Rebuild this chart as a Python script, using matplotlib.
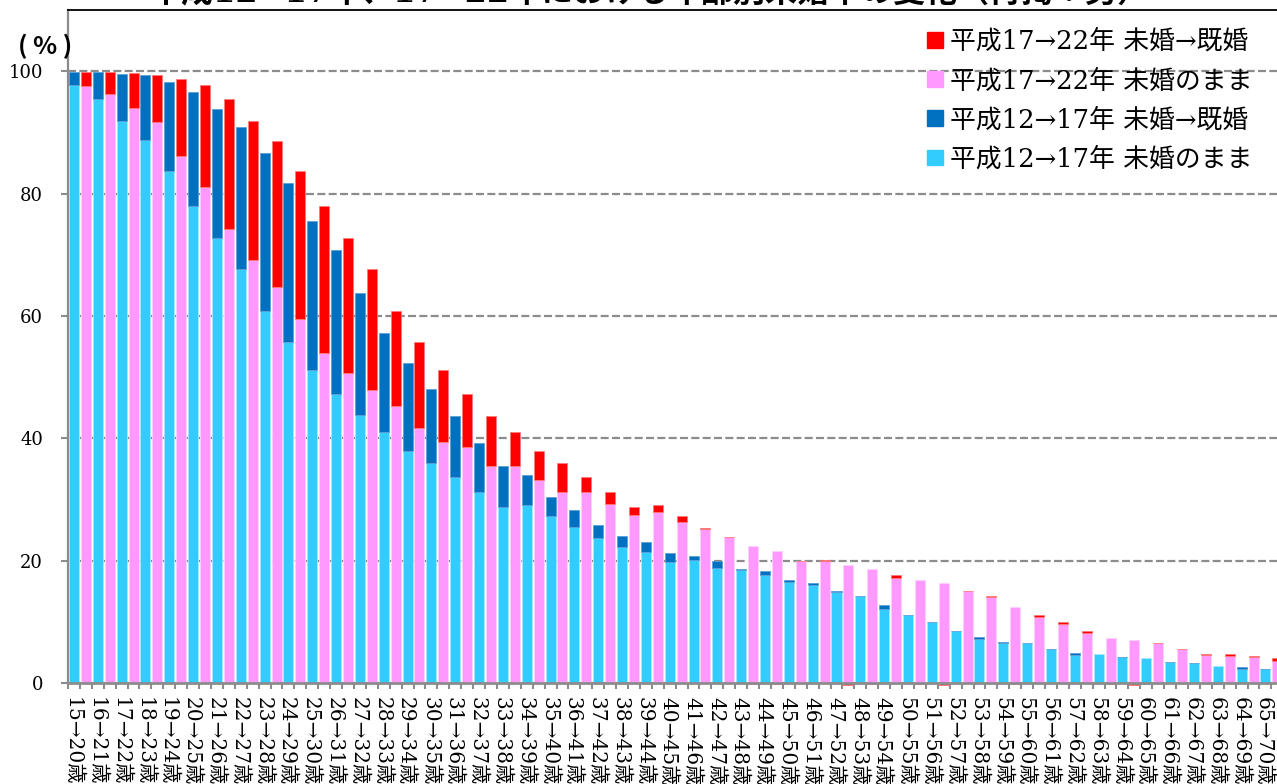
import matplotlib
matplotlib.use("Agg")
import matplotlib.pyplot as plt
from matplotlib.patches import Patch
import numpy as np

# ---------------------------------------------------------------------------
# data (%)
# ---------------------------------------------------------------------------
start_ages = list(range(15, 66))
age_labels = [f"{a}→{a + 5}歳" for a in start_ages]

# 平成12→17年
h12_stay = [97.7, 95.4, 91.8, 88.7, 83.7, 77.9, 72.7, 67.7, 60.8, 55.7,
            51.1, 47.2, 43.8, 41.1, 38.0, 35.9, 33.7, 31.2, 28.7, 29.1,
            27.3, 25.5, 23.7, 22.2, 21.4, 19.8, 20.1, 18.8, 18.5, 17.6,
            16.5, 16.0, 14.9, 14.2, 12.1, 11.1, 9.9, 8.5, 7.2, 6.5,
            6.5, 5.5, 4.6, 4.7, 4.25, 4.1, 3.4, 3.3, 2.8, 2.3, 2.3]
h12_married = [2.2, 4.4, 7.7, 10.6, 14.5, 18.7, 21.2, 23.2, 25.8, 26.1,
               24.4, 23.6, 19.9, 16.1, 14.3, 12.2, 10.0, 8.1, 6.8, 4.9,
               3.1, 2.7, 2.2, 1.9, 1.6, 1.4, 0.7, 1.1, 0.1, 0.7,
               0.3, 0.3, 0.2, 0.0, 0.6, 0.0, 0.0, 0.0, 0.3, 0.2,
               0.0, 0.0, 0.3, -0.05, 0.0, -0.1, 0.0, 0.0, -0.15, 0.3, 0.0]

# 平成17→22年
h17_stay = [97.6, 96.3, 94.0, 91.7, 86.2, 81.1, 74.2, 69.1, 64.8, 59.5,
            54.0, 50.7, 47.9, 45.2, 41.7, 39.4, 38.6, 35.4, 35.5, 33.1,
            31.3, 31.2, 29.3, 27.4, 28.0, 26.3, 25.1, 23.8, 22.4, 21.6,
            19.9, 19.9, 19.3, 18.6, 17.2, 16.8, 16.3, 15.0, 14.05, 12.4,
            10.8, 9.7, 8.2, 7.4, 7.0, 6.6, 5.5, 4.5, 4.4, 4.2, 3.6]
h17_married = [2.3, 3.5, 5.7, 7.6, 12.6, 16.6, 21.2, 22.7, 23.8, 24.2,
               23.9, 22.0, 19.8, 15.6, 14.0, 11.7, 8.6, 8.3, 5.6, 4.9,
               4.6, 2.4, 1.9, 1.3, 1.1, 1.0, 0.3, 0.0, -0.1, -0.2,
               0.0, 0.2, -0.4, -0.1, 0.4, -0.2, -0.3, 0.0, 0.25, -0.1,
               0.3, 0.2, 0.3, -0.1, -0.3, 0.0, 0.0, 0.2, 0.3, 0.2, 0.5]

legend_labels = ["平成17→22年 未婚→既婚", "平成17→22年 未婚のまま",
                 "平成12→17年 未婚→既婚", "平成12→17年 未婚のまま"]
title = "平成12→17年、17→22年における年齢別未婚率の変化（再掲：男）"

# colours
C_H12_STAY, C_H12_MAR = "#33ccff", "#0070c0"
C_H17_STAY, C_H17_MAR = "#ff99ff", "#ff0000"
GRAY = "#8c8c8c"

# serif digits/arrows, Japanese glyphs fall back to the CJK family
JP = ["DejaVu Serif", "Noto Sans CJK JP"]
plt.rcParams["font.family"] = JP

W, H = 1277, 784
fig = plt.figure(figsize=(W / 100, H / 100), dpi=100)
# the source picture is cropped: plot area runs a little past the right edge
ax = fig.add_axes([68 / W, 1 - 683 / H, (1283.3 - 68) / W, (683 - 10) / H])

n = len(age_labels)
x_h12 = np.arange(n) * 2
x_h17 = x_h12 + 1
width = 0.84


def stacked(x, stay, married, c_stay, c_mar, e_stay, e_mar):
    stay = np.asarray(stay)
    married = np.asarray(married)
    ax.bar(x, stay, width, color=c_stay, edgecolor=e_stay, linewidth=0.6,
           zorder=3, clip_on=False)
    # negative changes are drawn below the zero line, as in the source chart
    ax.bar(x, married, width, bottom=np.where(married >= 0, stay, 0),
           color=c_mar, edgecolor=e_mar, linewidth=0.6, zorder=3, clip_on=False)


stacked(x_h12, h12_stay, h12_married, C_H12_STAY, C_H12_MAR, "#a6e8ff", "#5c9fd6")
stacked(x_h17, h17_stay, h17_married, C_H17_STAY, C_H17_MAR, "#ffd0ff", "#ff7a7a")

ax.set_xlim(-0.5, 2 * n - 0.5)
ax.set_ylim(0, 110)

ax.set_yticks(range(0, 101, 20))
ax.set_yticklabels([str(v) for v in range(0, 101, 20)], fontsize=13)
ax.yaxis.grid(True, linestyle=(0, (3.6, 1.5)), color=GRAY, linewidth=1.6)
ax.set_axisbelow(True)
ax.tick_params(axis="y", length=5, width=1.5, color=GRAY, pad=13)

ax.set_xticks(x_h12 - 0.15)
ax.set_xticklabels(age_labels, rotation=-90, fontsize=14.5, va="top", ha="center")
ax.set_xticks(np.arange(-0.5, 2 * n, 1), minor=True)
ax.tick_params(axis="x", which="major", length=0, pad=10)
ax.tick_params(axis="x", which="minor", length=4, width=1.5, color=GRAY)

ax.spines["right"].set_visible(False)
ax.spines["left"].set_color(GRAY)
ax.spines["left"].set_linewidth(1.6)
ax.spines["bottom"].set_color(GRAY)
ax.spines["bottom"].set_linewidth(2.0)
ax.spines["bottom"].set_zorder(5)
ax.spines["top"].set_color("black")
ax.spines["top"].set_linewidth(1.3)

fig.text(18 / W, 1 - 46 / H, "( % )", fontsize=18, fontweight="bold",
         family=["Noto Sans CJK JP"], va="center", ha="left")

# title: only its lowest pixels are inside the cropped picture
fig.text(650 / W, 1 - 2 / H, title, fontsize=23, fontweight="bold",
         ha="center", va="baseline")

handles = [Patch(color=C_H17_MAR), Patch(color=C_H17_STAY),
           Patch(color=C_H12_MAR), Patch(color=C_H12_STAY)]
fig.legend(handles, legend_labels, loc="upper left",
           bbox_to_anchor=(927 / W, 1 - 29 / H), frameon=False, fontsize=18.6,
           handlelength=0.6, handleheight=0.55, handletextpad=0.3,
           labelspacing=0.55, borderpad=0, borderaxespad=0)

fig.savefig("out.png", dpi=100)
